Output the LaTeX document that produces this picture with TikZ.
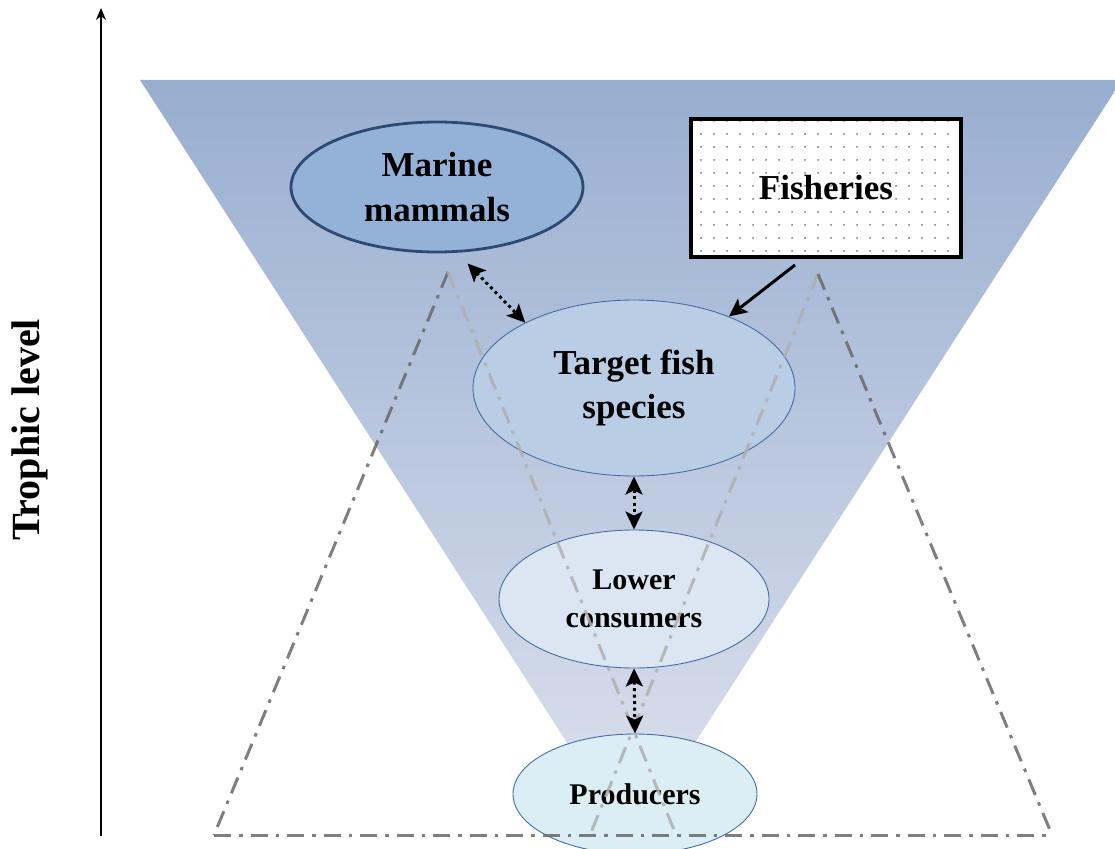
\documentclass[tikz,border=0pt]{standalone}
\usepackage{fontspec}
\setmainfont{Liberation Serif}
\usetikzlibrary{shapes.geometric,arrows.meta,patterns.meta}
\definecolor{funtop}{RGB}{152,174,208}
\definecolor{funbot}{RGB}{222,226,238}
\definecolor{mmfill}{RGB}{148,178,216}
\definecolor{mmdraw}{RGB}{44,74,116}
\definecolor{tffill}{RGB}{185,205,229}
\definecolor{lcfill}{RGB}{220,230,242}
\definecolor{prfill}{RGB}{218,238,244}
\definecolor{thindraw}{RGB}{70,110,165}
\definecolor{darkline}{RGB}{105,105,105}
\definecolor{lightline}{RGB}{175,175,175}
\tikzset{
  eli/.style={ellipse, draw=thindraw, line width=0.9pt, align=center, inner sep=0pt, font=\bfseries},
  dashdot/.style={line width=3pt, dash pattern=on 17pt off 8pt on 3.5pt off 8pt, opacity=0.85},
  bighead/.style={Stealth[length=18pt,width=17pt,inset=4pt,line width=0pt]},
  dblarrow/.style={line width=3pt, dash pattern=on 3pt off 3.5pt, {Stealth[length=18pt,width=17pt,inset=4pt]}-{Stealth[length=18pt,width=17pt,inset=4pt]}},
}
\begin{document}
\begin{tikzpicture}[x=1pt,y=-1pt]
\useasboundingbox (0,0) rectangle (1115,848);
\clip (0,0) rectangle (1115,848);
% funnel
\shade[top color=funtop, bottom color=funbot] (140,80) -- (1122,80) -- (631,842) -- cycle;
% axis
\coordinate (ax0) at (101,836);
\coordinate (ax1) at (101,8);
\draw[line width=1.8pt, -{Stealth[length=12pt,width=10pt]}] (ax0) -- (ax1);
\node[rotate=90, font=\bfseries\fontsize{40}{44}\selectfont] (tl) at (30,430) {Trophic level};
% nodes
\node[eli, draw=mmdraw, line width=2.8pt, fill=mmfill, minimum width=292pt, minimum height=130pt,
  font=\bfseries\fontsize{35}{45}\selectfont] (mm) at (437,187) {Marine\\mammals};
\node[draw=black, line width=3.5pt, fill=white, minimum width=270pt, minimum height=138pt] (fi) at (826,188) {};
\fill[pattern={Dots[distance=13pt, radius=1pt]}, pattern color=black!60] (693,121) rectangle (959,255);
\node[font=\bfseries\fontsize{35}{40}\selectfont] (fit) at (fi.center) {Fisheries};
\node[eli, fill=tffill, minimum width=322pt, minimum height=176pt,
  font=\bfseries\fontsize{35}{44}\selectfont] (tf) at (634,388) {Target fish\\species};
\node[eli, fill=lcfill, minimum width=270pt, minimum height=138pt,
  font=\bfseries\fontsize{30}{38}\selectfont] (lc) at (634,599) {Lower\\consumers};
\node[eli, fill=prfill, minimum width=244pt, minimum height=120pt,
  font=\bfseries\fontsize{30}{34}\selectfont] (pr) at (635,794) {Producers};
% dash-dot triangles
\coordinate (la) at (448,272);
\coordinate (ll) at (214,835);
\coordinate (lr) at (676,835);
\coordinate (ra) at (818,274);
\coordinate (rl) at (590,835);
\coordinate (rr) at (1052,835);
\draw[dashdot, darkline] (la) -- (ll);
\draw[dashdot, lightline] (la) -- (lr);
\draw[dashdot, lightline] (ra) -- (rl);
\draw[dashdot, darkline] (ra) -- (rr);
\draw[dashdot, darkline] (ll) -- (rr);
% arrows
\draw[dblarrow, shorten <=15pt] (mm.-73) -- (tf.149);
\draw[dblarrow] (tf.south) -- (lc.north);
\draw[dblarrow] (lc.south) -- (pr.north);
\coordinate (fs) at (795,265);
\draw[line width=3pt, -{Stealth[length=18pt,width=17pt,inset=4pt]}] (fs) -- (tf.37);
\end{tikzpicture}
\end{document}
